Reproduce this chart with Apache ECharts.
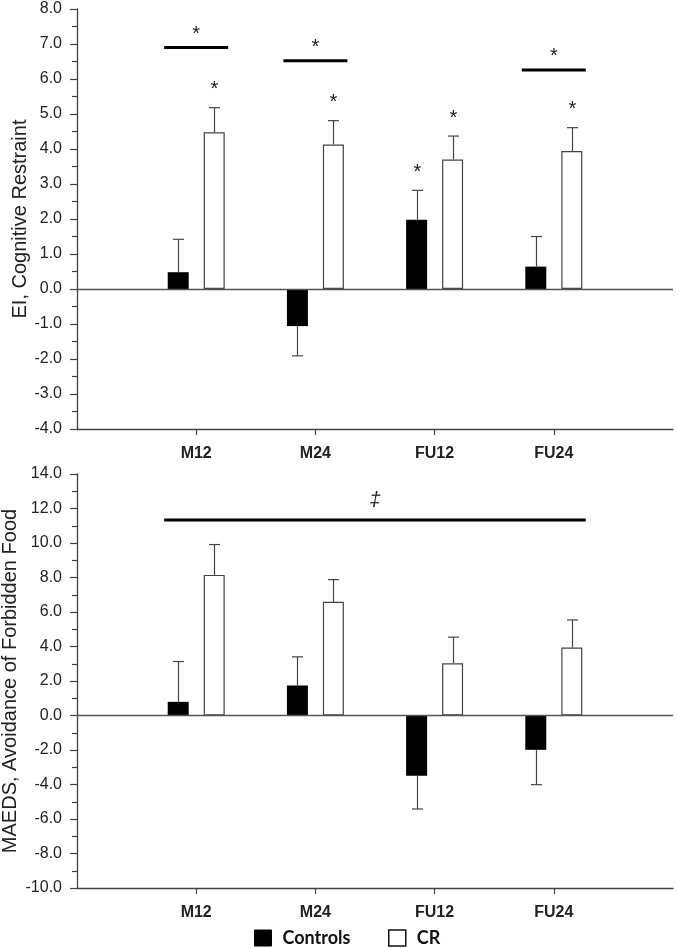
<!DOCTYPE html>
<html><head><meta charset="utf-8">
<script src="https://cdn.jsdelivr.net/npm/echarts@6/dist/echarts.min.js"></script>
<style>html,body{margin:0;padding:0;background:#fff}#c{width:677px;height:948px}</style>
</head><body><div id="c"></div>
<script>
// ---- data ----
const categories = ['M12', 'M24', 'FU12', 'FU24'];

// Top panel: EI, Cognitive Restraint (change from baseline, mean + SEM)
const eiControls    = [0.48, -1.06, 1.98, 0.64];
const eiControlsSem = [0.94, 0.85, 0.84, 0.86];
const eiCR          = [4.48, 4.13, 3.70, 3.94];
const eiCRSem       = [0.70, 0.68, 0.67, 0.67];
const eiControlsStar = [false, false, true, false];
const eiCRStar       = [true, true, true, true];
const eiBracketFrom  = ['M12', 'M24', 'FU24'];
const eiBracketTo    = ['M12', 'M24', 'FU24'];
const eiBracketY     = [6.9, 6.52, 6.26];
const eiBracketMark  = ['*', '*', '*'];
const eiTickLabels   = ['-4.0','-3.0','-2.0','-1.0','0.0','1.0','2.0','3.0','4.0','5.0','6.0','7.0','8.0'];

// Bottom panel: MAEDS, Avoidance of Forbidden Food
const maedsControls    = [0.79, 1.74, -3.49, -1.99];
const maedsControlsSem = [2.34, 1.66, 1.93, 2.02];
const maedsCR          = [8.15, 6.59, 3.03, 3.94];
const maedsCRSem       = [1.76, 1.29, 1.51, 1.60];
const maedsControlsStar = [false, false, false, false];
const maedsCRStar       = [false, false, false, false];
const maedsBracketFrom  = ['M12'];
const maedsBracketTo    = ['FU24'];
const maedsBracketY     = [11.34];
const maedsBracketMark  = ['‡'];
const maedsTickLabels   = ['-10.0','-8.0','-6.0','-4.0','-2.0','0.0','2.0','4.0','6.0','8.0','10.0','12.0','14.0'];

const seriesNames = ['Controls', 'CR'];
const yTitles = ['EI, Cognitive Restraint', 'MAEDS, Avoidance of Forbidden Food'];

// ---- styles ----
const BAR_W = 21, BAR_GAP_PX = 15, CAP = 11;
const OFFSET = (BAR_W + BAR_GAP_PX) / 2;
const AX = '#444';
const FONT = 'Arial, "Liberation Sans", sans-serif';
const axisCats = [''].concat(categories).concat([' ']);
const catIndex = c => categories.indexOf(c) + 1;

function pad(arr) { return ['-'].concat(arr).concat(['-']); }

function errSeries(gi, mean, sem, star, offset) {
  return {
    type: 'custom', xAxisIndex: gi, yAxisIndex: gi, z: 5, silent: true,
    data: mean.map((m, i) => [i + 1, m, sem[i], star[i] ? 1 : 0]),
    renderItem: function (params, api) {
      const x = api.value(0), m = api.value(1), s = api.value(2), st = api.value(3);
      const end = m + (m < 0 ? -s : s);
      const p0 = api.coord([x, m]), p1 = api.coord([x, end]);
      const cx = Math.round(p0[0] + offset) + 0.5;
      const ch = [
        {type: 'line', shape: {x1: cx, y1: p0[1], x2: cx, y2: p1[1]}, style: {stroke: AX, lineWidth: 1.2}},
        {type: 'line', shape: {x1: cx - CAP / 2, y1: p1[1], x2: cx + CAP / 2, y2: p1[1]}, style: {stroke: AX, lineWidth: 1.2}}
      ];
      if (st) ch.push({type: 'text', style: {text: '*', x: cx, y: p1[1] - 18, align: 'center', verticalAlign: 'middle',
        font: '20px ' + FONT, fill: '#222'}});
      return {type: 'group', children: ch};
    }
  };
}

function bracketSeries(gi, from, to, ys, marks, markGap, markFont) {
  return {
    type: 'custom', xAxisIndex: gi, yAxisIndex: gi, z: 5, silent: true,
    data: ys.map((y, i) => [catIndex(from[i]), catIndex(to[i]), y]),
    renderItem: function (params, api) {
      const a = api.coord([api.value(0), api.value(2)]);
      const b = api.coord([api.value(1), api.value(2)]);
      const x1 = a[0] - 32, x2 = b[0] + 32, y = a[1];
      return {type: 'group', children: [
        {type: 'line', shape: {x1: x1, y1: y, x2: x2, y2: y}, style: {stroke: '#000', lineWidth: 3}},
        {type: 'text', style: {text: marks[params.dataIndex], x: (x1 + x2) / 2, y: y - markGap, align: 'center',
          verticalAlign: 'middle', font: markFont, fill: '#222'}}
      ]};
    }
  };
}

function barPair(gi, ctrl, cr) {
  return [
    {name: seriesNames[0], type: 'bar', xAxisIndex: gi, yAxisIndex: gi, data: pad(ctrl), barWidth: BAR_W,
     barGap: (BAR_GAP_PX / BAR_W * 100).toFixed(1) + '%', z: 2,
     itemStyle: {color: '#000', borderColor: '#000', borderWidth: 0},
     markLine: {silent: true, symbol: 'none', label: {show: false}, animation: false,
       lineStyle: {color: '#555', width: 1.3, type: 'solid'}, data: [{yAxis: 0}]}},
    {name: seriesNames[1], type: 'bar', xAxisIndex: gi, yAxisIndex: gi, data: pad(cr), barWidth: BAR_W, z: 2,
     itemStyle: {color: '#fff', borderColor: '#444', borderWidth: 1.2}}
  ];
}

function yAxis(gi, labels, title, nameGap) {
  const vals = labels.map(Number);
  return {
    type: 'value', gridIndex: gi, min: vals[0], max: vals[vals.length - 1], interval: vals[1] - vals[0],
    axisLine: {show: true, lineStyle: {color: AX, width: 1.3}},
    axisTick: {show: true, length: 7, lineStyle: {color: AX, width: 1.2}},
    minorTick: {show: true, splitNumber: 2, length: 5, lineStyle: {color: AX, width: 1.2}},
    splitLine: {show: false},
    axisLabel: {margin: 15, color: '#222', fontSize: 16, fontFamily: FONT,
      formatter: v => labels[vals.indexOf(v)] !== undefined ? labels[vals.indexOf(v)] : v.toFixed(1)},
    name: title, nameLocation: 'middle', nameGap: nameGap, nameMoveOverlap: false,
    nameTextStyle: {fontSize: 20, color: '#222', fontFamily: FONT}
  };
}

function xAxis(gi) {
  return {
    type: 'category', gridIndex: gi, data: axisCats, boundaryGap: false,
    axisLine: {show: true, onZero: false, lineStyle: {color: AX, width: 1.3}},
    axisTick: {show: true, length: 6, interval: (i) => i >= 1 && i <= categories.length, lineStyle: {color: AX, width: 1.2}},
    axisLabel: {margin: 17, color: '#222', fontSize: 16, fontWeight: 'bold', fontFamily: FONT, interval: 0},
    splitLine: {show: false}
  };
}

const chart = echarts.init(document.getElementById('c'), null, {renderer: 'canvas'});
chart.setOption({
  animation: false,
  backgroundColor: '#fff',
  grid: [
    {left: 77, right: 4, top: 9, height: 420, containLabel: false, outerBoundsMode: 'none'},
    {left: 77, right: 4, top: 474, height: 414, containLabel: false, outerBoundsMode: 'none'}
  ],
  xAxis: [xAxis(0), xAxis(1)],
  yAxis: [yAxis(0, eiTickLabels, yTitles[0], 47), yAxis(1, maedsTickLabels, yTitles[1], 57)],
  legend: [
    {data: [{name: 'Controls', itemStyle: {color: '#000', borderColor: '#000', borderWidth: 1}}],
     left: 254, top: 929, padding: 0, itemWidth: 17, itemHeight: 16, icon: 'rect', selectedMode: false,
     textStyle: {fontSize: 18, fontWeight: 'bold', color: '#111', fontFamily: 'Lato, sans-serif', padding: [0, 0, 0, 6]}},
    {data: [{name: 'CR', itemStyle: {color: '#fff', borderColor: '#111', borderWidth: 1.5}}],
     left: 388, top: 929, padding: 0, itemWidth: 17, itemHeight: 16, icon: 'rect', selectedMode: false,
     textStyle: {fontSize: 18, fontWeight: 'bold', color: '#111', fontFamily: 'Lato, sans-serif', padding: [0, 0, 0, 6]}}
  ],
  series: [].concat(
    barPair(0, eiControls, eiCR),
    [errSeries(0, eiControls, eiControlsSem, eiControlsStar, -OFFSET),
     errSeries(0, eiCR, eiCRSem, eiCRStar, OFFSET),
     bracketSeries(0, eiBracketFrom, eiBracketTo, eiBracketY, eiBracketMark, 13, '20px ' + FONT)],
    barPair(1, maedsControls, maedsCR),
    [errSeries(1, maedsControls, maedsControlsSem, maedsControlsStar, -OFFSET),
     errSeries(1, maedsCR, maedsCRSem, maedsCRStar, OFFSET),
     bracketSeries(1, maedsBracketFrom, maedsBracketTo, maedsBracketY, maedsBracketMark, 19, 'italic 20px ' + FONT)]
  )
});
</script>
</body></html>
